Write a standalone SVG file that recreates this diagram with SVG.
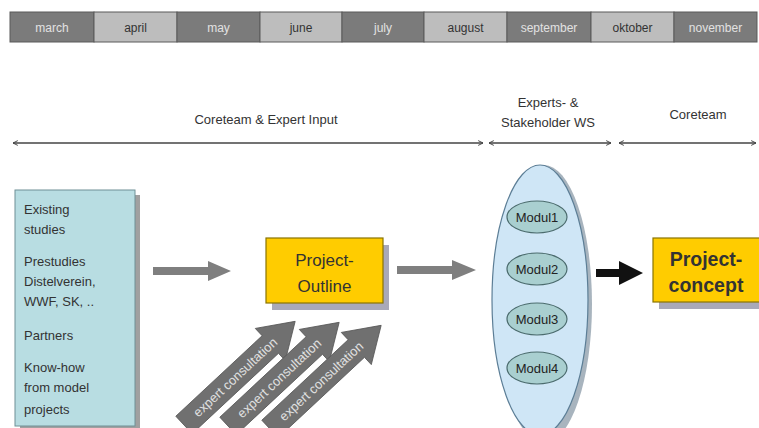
<svg xmlns="http://www.w3.org/2000/svg" width="759" height="428" viewBox="0 0 759 428">
<style>
text{font-family:"Liberation Sans",Arial,sans-serif}
.md{fill:#7b7b7b;stroke:#5a5a5a;stroke-width:1}
.ml{fill:#bdbdbd;stroke:#5a5a5a;stroke-width:1}
.tmd{fill:#e2e2e2;font-size:12px;text-anchor:middle}
.tml{fill:#333;font-size:12px;text-anchor:middle}
.lab{fill:#333;font-size:13px;text-anchor:middle}
.dim{stroke:#444;stroke-width:1.5;fill:none;marker-start:url(#op);marker-end:url(#op)}
.src{fill:#333;font-size:13px}
.yb{fill:#ffcc00;stroke:#8a7400;stroke-width:1.2}
.sh{fill:#a9a9b8}
.ga{fill:#7f7f7f}
.ec{fill:#707070;stroke:#555;stroke-width:0.8}
.et{fill:#e0e0e0;font-size:13px;text-anchor:middle}
.mod{fill:#a9cfd0;stroke:#4c6c6e;stroke-width:1.2}
.mt{fill:#222;font-size:13px;text-anchor:middle}
</style>
<defs>
<marker id="op" viewBox="0 0 10 10" refX="9" refY="5" markerWidth="6" markerHeight="6" orient="auto-start-reverse" markerUnits="userSpaceOnUse">
<path d="M1,1 L9,5 L1,9" fill="none" stroke="#444" stroke-width="1.6"/>
</marker>
<path id="ex" d="M0,-12 L118,-12 L118,-22 L152,0 L118,22 L118,12 L0,12 Z"/>
</defs>
<rect width="759" height="428" fill="#ffffff"/>
<g id="months">
<rect class="md" x="10" y="12" width="84" height="30"/><text class="tmd" x="52" y="32">march</text>
<rect class="ml" x="94" y="12" width="83" height="30"/><text class="tml" x="135.5" y="32">april</text>
<rect class="md" x="177" y="12" width="83" height="30"/><text class="tmd" x="218.5" y="32">may</text>
<rect class="ml" x="260" y="12" width="82" height="30"/><text class="tml" x="301" y="32">june</text>
<rect class="md" x="342" y="12" width="82" height="30"/><text class="tmd" x="383" y="32">july</text>
<rect class="ml" x="424" y="12" width="83" height="30"/><text class="tml" x="465.5" y="32">august</text>
<rect class="md" x="507" y="12" width="84" height="30"/><text class="tmd" x="549" y="32">september</text>
<rect class="ml" x="591" y="12" width="83" height="30"/><text class="tml" x="632.5" y="32">oktober</text>
<rect class="md" x="674" y="12" width="83" height="30"/><text class="tmd" x="715.5" y="32">november</text>
</g>
<g id="phases">
<text class="lab" x="266" y="124">Coreteam &amp; Expert Input</text>
<text class="lab" x="548" y="107">Experts- &amp;</text>
<text class="lab" x="548" y="127">Stakeholder WS</text>
<text class="lab" x="698" y="119">Coreteam</text>
</g>
<g id="connectors">
<line class="dim" x1="13" y1="143" x2="483" y2="143"/>
<line class="dim" x1="489" y1="143" x2="611" y2="143"/>
<line class="dim" x1="619" y1="143" x2="756" y2="143"/>
<path class="ga" d="M153,267 L208,267 L208,261 L231,271 L208,281 L208,275 L153,275 Z"/>
<path class="ga" d="M397,266 L452,266 L452,260 L476,270 L452,280 L452,274 L397,274 Z"/>
<path fill="#111" d="M596,269 L619,269 L619,261 L643,273 L619,285 L619,277 L596,277 Z"/>
</g>
<g id="sources">
<rect x="20" y="195" width="120" height="235" fill="#a0a0a0"/>
<rect x="15" y="190" width="120" height="236" fill="#b8dde2" stroke="#6f9096" stroke-width="1"/>
<text class="src" x="24" y="214">Existing</text>
<text class="src" x="24" y="234">studies</text>
<text class="src" x="24" y="266">Prestudies</text>
<text class="src" x="24" y="286">Distelverein,</text>
<text class="src" x="24" y="306">WWF, SK, ..</text>
<text class="src" x="24" y="340">Partners</text>
<text class="src" x="24" y="372">Know-how</text>
<text class="src" x="24" y="392">from model</text>
<text class="src" x="24" y="414">projects</text>
</g>
<g id="outline">
<rect class="sh" x="272" y="245" width="117" height="65"/>
<rect class="yb" x="266" y="238" width="117" height="65"/>
<text x="324.5" y="266" fill="#333" font-size="17" text-anchor="middle">Project-</text>
<text x="324.5" y="292" fill="#333" font-size="17" text-anchor="middle">Outline</text>
</g>
<g id="consultation">
<g transform="translate(184,425) rotate(-43)"><use href="#ex" class="ec"/><text class="et" x="70" y="4.5">expert consultation</text></g>
<g transform="translate(228,426) rotate(-43)"><use href="#ex" class="ec"/><text class="et" x="70" y="4.5">expert consultation</text></g>
<g transform="translate(270,429) rotate(-43)"><use href="#ex" class="ec"/><text class="et" x="70" y="4.5">expert consultation</text></g>
</g>
<g id="workshop">
<ellipse cx="544" cy="304" rx="48" ry="139" fill="#a8b4be"/>
<ellipse cx="540" cy="300" rx="48" ry="135" fill="#cfe6f6" stroke="#5c7e96" stroke-width="1.2"/>
<ellipse class="mod" cx="537" cy="217" rx="30" ry="16"/><text class="mt" x="537" y="222">Modul1</text>
<ellipse class="mod" cx="537" cy="269" rx="30" ry="16"/><text class="mt" x="537" y="274">Modul2</text>
<ellipse class="mod" cx="537" cy="319" rx="30" ry="16"/><text class="mt" x="537" y="324">Modul3</text>
<ellipse class="mod" cx="537" cy="368" rx="30" ry="16"/><text class="mt" x="537" y="373">Modul4</text>
</g>
<g id="concept">
<rect class="sh" x="659" y="245" width="106" height="64"/>
<rect class="yb" x="653" y="238" width="110" height="64"/>
<text x="706" y="266" fill="#333" font-size="19.5" font-weight="bold" text-anchor="middle">Project-</text>
<text x="706" y="292" fill="#333" font-size="19.5" font-weight="bold" text-anchor="middle">concept</text>
</g>
</svg>
